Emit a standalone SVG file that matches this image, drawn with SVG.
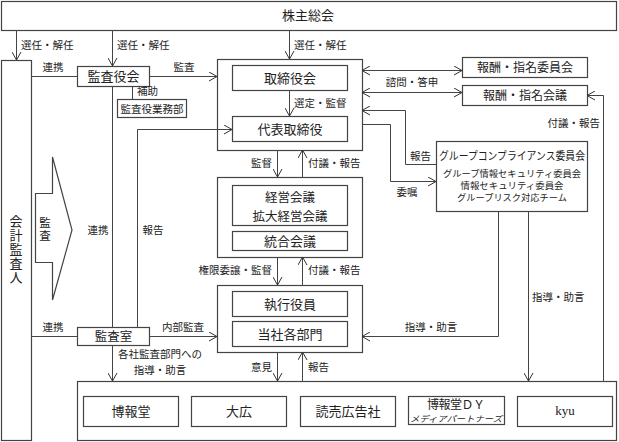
<svg xmlns="http://www.w3.org/2000/svg" width="619" height="442" viewBox="0 0 619 442">
<defs>
<marker id="a" viewBox="0 0 8 10" refX="8" refY="5" markerWidth="8" markerHeight="10" markerUnits="userSpaceOnUse" orient="auto-start-reverse">
<path d="M0,0.5 L8,5 L0,9.5" fill="none" stroke="#333" stroke-width="1"/>
</marker>
<style>
text{font-family:"Noto Sans CJK JP","Noto Sans",sans-serif;fill:#222}
.b{fill:#fff;stroke:#444;stroke-width:1.2}
.c{fill:none;stroke:#444;stroke-width:1}
.ar{marker-end:url(#a)}
.l{font-size:10.5px}
.n{font-size:13px;text-anchor:middle}
.m{text-anchor:middle}
.e{text-anchor:end}
.v{writing-mode:vertical-rl}
</style>
</defs>
<rect width="619" height="442" fill="#fff"/>

<g id="shareholders"><rect class="b" x="1.5" y="1.5" width="615" height="29"/><text class="n" x="308" y="20">株主総会</text></g>

<g id="auditor"><rect class="b" x="1.5" y="60.5" width="30" height="380"/>
<text class="v" style="font-size:13px;letter-spacing:1px" x="16" y="215">会計監査人</text></g>

<g id="audit-arrow"><polygon class="b" points="35.5,193.5 52.5,193.5 52.5,157 72,230 52.5,300 52.5,262.5 35.5,262.5"/>
<text class="v" style="font-size:11.5px;letter-spacing:1px" x="45" y="217">監査</text></g>

<g id="kansayakukai"><rect class="b" x="77.5" y="66.5" width="72" height="20"/><text class="n" x="113.5" y="81">監査役会</text></g>
<g id="gyomubu"><rect class="b" x="117.5" y="99.5" width="69" height="18"/><text class="m" style="font-size:10.5px" x="152" y="112.5">監査役業務部</text></g>
<g id="kansashitsu"><rect class="b" x="77.5" y="327.5" width="72" height="18"/><text class="m" style="font-size:12.5px" x="113.5" y="341">監査室</text></g>

<g id="board-group"><rect class="b" x="217.5" y="59.5" width="145" height="91"/></g>
<g id="torishimariyakukai"><rect class="b" x="232.5" y="65.5" width="115" height="25"/><text class="n" x="290" y="83">取締役会</text></g>
<g id="daihyo"><rect class="b" x="232.5" y="116.5" width="115" height="25"/><text class="n" x="290" y="134">代表取締役</text></g>

<g id="mgmt-group"><rect class="b" x="217.5" y="177.5" width="145" height="80"/></g>
<g id="keiei"><rect class="b" x="232.5" y="185.5" width="115" height="40"/><text class="m" style="font-size:12.5px" x="290" y="201.5">経営会議</text><text class="m" style="font-size:12.5px" x="290" y="221">拡大経営会議</text></g>
<g id="togo"><rect class="b" x="232.5" y="231.5" width="115" height="19"/><text class="n" x="290" y="246">統合会議</text></g>

<g id="exec-group"><rect class="b" x="217.5" y="285.5" width="145" height="67"/></g>
<g id="shikko"><rect class="b" x="232.5" y="291.5" width="115" height="25"/><text class="n" x="290" y="309">執行役員</text></g>
<g id="kakubumon"><rect class="b" x="232.5" y="321.5" width="115" height="25"/><text class="n" x="290" y="339">当社各部門</text></g>

<g id="hoshu-iinkai"><rect class="b" x="462.5" y="57.5" width="125" height="20"/><text class="m" style="font-size:12px" x="525" y="72">報酬・指名委員会</text></g>
<g id="hoshu-kaigi"><rect class="b" x="462.5" y="85.5" width="125" height="20"/><text class="m" style="font-size:12px" x="525" y="100">報酬・指名会議</text></g>

<g id="compliance"><rect class="b" x="436.5" y="141.5" width="151" height="70"/>
<text class="m" style="font-size:11px" x="512" y="160" textLength="146" lengthAdjust="spacingAndGlyphs">グループコンプライアンス委員会</text>
<text class="m" style="font-size:9px" x="512" y="177" textLength="138" lengthAdjust="spacingAndGlyphs">グループ情報セキュリティ委員会</text>
<text class="m" style="font-size:9px" x="512" y="189" textLength="103" lengthAdjust="spacingAndGlyphs">情報セキュリティ委員会</text>
<text class="m" style="font-size:9px" x="512" y="201" textLength="110" lengthAdjust="spacingAndGlyphs">グループリスク対応チーム</text></g>

<g id="group-companies"><rect class="b" x="77.5" y="381.5" width="539" height="59"/></g>
<g id="hakuhodo"><rect class="b" x="83.5" y="396.5" width="95" height="30"/><text class="n" x="131" y="416">博報堂</text></g>
<g id="daiko"><rect class="b" x="191.5" y="396.5" width="95" height="30"/><text class="n" x="239" y="416">大広</text></g>
<g id="yomiko"><rect class="b" x="300.5" y="396.5" width="95" height="30"/><text class="n" x="348" y="416">読売広告社</text></g>
<g id="hdy"><rect class="b" x="408.5" y="396.5" width="96" height="28"/><text class="m" style="font-size:12px" x="456" y="409" textLength="58" lengthAdjust="spacing">博報堂ＤＹ</text><text class="m" style="font-size:8.5px;font-style:italic" x="456" y="421.5" textLength="92" lengthAdjust="spacingAndGlyphs">メディアパートナーズ</text></g>
<g id="kyu"><rect class="b" x="517.5" y="396.5" width="95" height="30"/><text class="m" style="font-family:'Liberation Serif',serif;font-size:13px" x="565" y="415">kyu</text></g>

<g id="connectors">
<path class="c ar" d="M16.5,30 V60"/>
<path class="c ar" d="M112.5,30 V66"/>
<path class="c ar" d="M289.5,30 V59"/>
<path class="c" d="M31,76.5 H77"/>
<path class="c ar" d="M149,76.5 H217"/>
<path class="c" d="M132.5,86.5 V99"/>
<path class="c" d="M112.5,86 V327"/>
<path class="c ar" d="M137.5,327 V129.5 H232"/>
<path class="c" d="M31,336.5 H77"/>
<path class="c ar" d="M149,336.5 H217"/>
<path class="c ar" d="M112.5,345 V381"/>
<path class="c ar" d="M289.5,90 V116"/>
<path class="c ar" d="M277.5,150 V177"/>
<path class="c ar" d="M302.5,177 V150"/>
<path class="c ar" d="M277.5,257 V285"/>
<path class="c ar" d="M302.5,285 V257"/>
<path class="c ar" d="M277.5,352 V381"/>
<path class="c ar" d="M302.5,381 V352"/>
<path class="c ar" d="M362,70.5 H462" marker-start="url(#a)"/>
<path class="c ar" d="M362,92.5 H462" marker-start="url(#a)"/>
<path class="c ar" d="M603.5,381 V95.5 H587"/>
<path class="c ar" d="M436,164.5 H405.5 V110.5 H362"/>
<path class="c ar" d="M362,124.5 H390.5 V181.5 H436"/>
<path class="c ar" d="M498.5,211 V336.5 H362"/>
<path class="c ar" d="M528.5,211 V381"/>
</g>

<g id="labels">
<text class="l" x="21" y="49">選任・解任</text>
<text class="l" x="117" y="49">選任・解任</text>
<text class="l" x="294" y="49">選任・解任</text>
<text class="l m" x="53" y="71">連携</text>
<text class="l m" x="184" y="71">監査</text>
<text class="l" x="137" y="95">補助</text>
<text class="l m" x="98" y="234">連携</text>
<text class="l m" x="153" y="234">報告</text>
<text class="l m" x="53" y="331">連携</text>
<text class="l m" x="183" y="331">内部監査</text>
<text class="l m" x="160" y="358">各社監査部門への</text>
<text class="l m" x="160" y="374">指導・助言</text>
<text class="l" x="294" y="107">選定・監督</text>
<text class="l e" x="272" y="167">監督</text>
<text class="l" x="308" y="167">付議・報告</text>
<text class="l e" x="272" y="274">権限委譲・監督</text>
<text class="l" x="308" y="274">付議・報告</text>
<text class="l e" x="272" y="371">意見</text>
<text class="l" x="308" y="371">報告</text>
<text class="l m" x="412" y="86">諮問・答申</text>
<text class="l e" x="600" y="127">付議・報告</text>
<text class="l" x="410" y="160">報告</text>
<text class="l m" x="407" y="196">委嘱</text>
<text class="l m" x="431" y="331">指導・助言</text>
<text class="l" x="532" y="301">指導・助言</text>
</g>
</svg>
